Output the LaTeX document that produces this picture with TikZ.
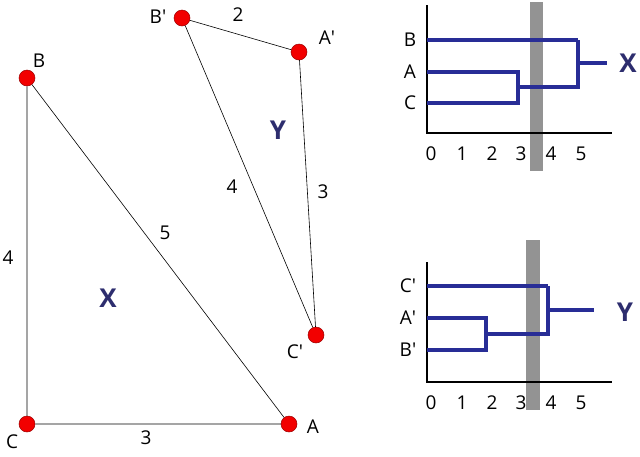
\documentclass[tikz,border=0pt]{standalone}
\usepackage{fontspec}
\setmainfont{Open Sans}
\definecolor{dblue}{RGB}{40,45,150}
\definecolor{lbl}{RGB}{45,45,110}
\tikzset{
  pt/.style={circle,fill=red!95!black,draw=red!60!black,line width=0.5pt,inner sep=0pt,minimum size=16pt},
  edge/.style={draw=black,line width=0.6pt},
  tx/.style={font=\fontsize{19}{19}\selectfont},
  big/.style={font=\bfseries\fontsize{26}{26}\selectfont,text=lbl},
  dg/.style={draw=dblue,line width=3.6pt},
  ax/.style={draw=black,line width=1.4pt},
  bar/.style={fill=gray!85,draw=none}
}
\begin{document}
\begin{tikzpicture}[x=1pt,y=-1pt]
\useasboundingbox (0,0) rectangle (640,456);
% left graph
\node[pt] (B) at (27,78) {};
\node[pt] (C) at (27,424) {};
\node[pt] (A) at (289,424) {};
\node[pt] (Bp) at (182,18) {};
\node[pt] (Ap) at (299,52) {};
\node[pt] (Cp) at (316,335) {};
\draw[edge] (B) -- (C) (C) -- (A) (A) -- (B);
\draw[edge] (Bp) -- (Ap) (Ap) -- (Cp) (Cp) -- (Bp);
\node[tx] at (39,61) {B};
\node[tx] at (12,442) {C};
\node[tx] at (313,427) {A};
\node[tx] at (158,17) {B′};
\node[tx] at (327,38) {A′};
\node[tx] at (295,352) {C′};
\node[tx] at (238,15) {2};
\node[tx] at (8,258) {4};
\node[tx] at (165,233) {5};
\node[tx] at (146,438) {3};
\node[tx] at (232,187) {4};
\node[tx] at (323,192) {3};
\node[big] at (108,298) {X};
\node[big] at (278,130) {Y};
% top dendrogram
\fill[bar] (530,2) rectangle (543,171);
\draw[ax] (427,5) -- (427,133) -- (612,133);
\draw[dg] (427,40) -- (578,40);
\draw[dg] (427,72) -- (518,72) -- (518,103) -- (427,103);
\draw[dg] (518,87) -- (578,87) -- (578,40);
\draw[dg] (578,63) -- (607,63);
\node[tx] at (410,40) {B};
\node[tx] at (410,72) {A};
\node[tx] at (410,103) {C};
\node[big] at (628,63) {X};
\foreach \i/\x in {0/431,1/462,2/492,3/521,4/551,5/581}{\node[tx] at (\x,154) {\i};}
% bottom dendrogram
\fill[bar] (526,240) rectangle (540,410);
\draw[ax] (427,262) -- (427,382) -- (612,382);
\draw[dg] (427,286) -- (548,286);
\draw[dg] (427,318) -- (486,318) -- (486,350) -- (427,350);
\draw[dg] (486,334) -- (548,334) -- (548,286);
\draw[dg] (548,310) -- (594,310);
\node[tx] at (408,286) {C′};
\node[tx] at (408,318) {A′};
\node[tx] at (408,350) {B′};
\node[big] at (625,312) {Y};
\foreach \i/\x in {0/431,1/462,2/492,3/521,4/551,5/581}{\node[tx] at (\x,403) {\i};}
\end{tikzpicture}
\end{document}
